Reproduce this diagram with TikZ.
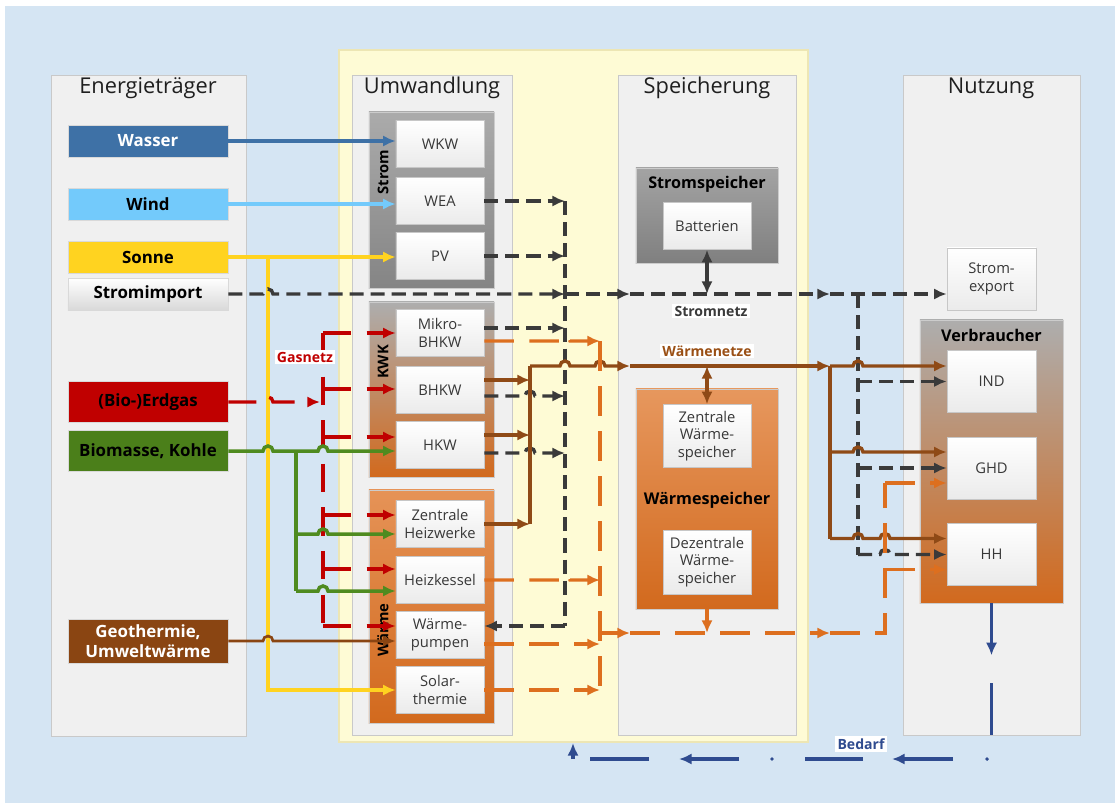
\documentclass[tikz,border=0pt]{standalone}
\usepackage{fontspec}
\setmainfont{Open Sans}
\usepackage{tikz}
\usetikzlibrary{calc,positioning,arrows.meta}

\definecolor{bgblue}{HTML}{D5E5F3}
\definecolor{pyellow}{HTML}{FEFBD5}
\definecolor{pyellowb}{HTML}{EDE6B4}
\definecolor{pgray}{HTML}{F0F0F0}
\definecolor{pborder}{HTML}{C9C9C9}
\definecolor{cwasser}{HTML}{3E71A6}
\definecolor{cwind}{HTML}{73CAFB}
\definecolor{csonne}{HTML}{FFD320}
\definecolor{cgas}{HTML}{C00000}
\definecolor{cbio}{HTML}{4B7F1A}
\definecolor{cgeo}{HTML}{8A4512}
\definecolor{cnetz}{HTML}{3A3A3A}
\definecolor{cbrown}{HTML}{8F4A16}
\definecolor{corange}{HTML}{DD6F1F}
\definecolor{cgreen}{HTML}{4F8B1F}
\definecolor{cnavy}{HTML}{2F4B8F}

% small bridge where a line jumps over another one
\newcommand\hopover[2]{-- ($(#1 |- #2)+(-5,0)$) arc[start angle=180,end angle=0,radius=0.125cm]}

\tikzset{
  panel/.style={draw=pborder, fill=pgray, line width=0.6pt},
  paneltitle/.style={font=\fontsize{15.5}{18}\selectfont, text=black!88},
  source/.style={minimum width=4cm, minimum height=0.8cm, inner sep=1pt, align=center,
    draw=black!15, font=\bfseries\fontsize{12}{14}\selectfont},
  unitgroup/.style={draw=black!20, line width=0.4pt, inner sep=0pt},
  unit/.style={draw=black!22, top color=white, bottom color=black!8,
    minimum width=2.2cm, minimum height=1.175cm, inner sep=1pt, align=center,
    text=black!78, font=\fontsize{10.5}{12.5}\selectfont},
  sink/.style={unit, minimum width=2.225cm, minimum height=1.55cm},
  grouplabel/.style={rotate=90, font=\bfseries\fontsize{10.5}{12}\selectfont},
  grouptitle/.style={font=\bfseries\fontsize{11.5}{13}\selectfont},
  netlabel/.style={fill=white, inner sep=1.5pt, font=\bfseries\fontsize{10}{12}\selectfont},
  arr/.style={-{Latex[length=9pt,width=8pt]}},
  biarr/.style={{Latex[length=9pt,width=8pt]}-{Latex[length=9pt,width=8pt]}},
  flow/.style={line width=2.5pt},
  stromline/.style={draw=cnetz, line width=2.4pt, dash pattern=on 10pt off 5pt},
  gasline/.style={draw=cgas, line width=2.4pt, dash pattern=on 20pt off 11pt},
  heatline/.style={draw=corange, line width=2.4pt, dash pattern=on 21pt off 11pt},
  netzline/.style={draw=cbrown, line width=2.4pt},
  bedarfline/.style={draw=cnavy, line width=2.3pt}
}

\begin{document}
\begin{tikzpicture}[x=0.025cm,y=-0.025cm]
\useasboundingbox (0,0) rectangle (1115,803);
\fill[white] (0,0) rectangle (1115,803);
\fill[bgblue] (5,6) rectangle (1115,803);

% columns
\path[fill=pyellow, draw=pyellowb, line width=1pt] (339,50) rectangle (808,742);
\path[panel] (51,75) rectangle (246,736);
\path[panel] (352,75) rectangle (512,735);
\path[panel] (618,75) rectangle (796,735);
\path[panel] (903,75) rectangle (1080,735);
\node[paneltitle] at (148,88) {Energieträger};
\node[paneltitle] at (432,88) {Umwandlung};
\node[paneltitle] at (707,88) {Speicherung};
\node[paneltitle] at (991,88) {Nutzung};

% Energietraeger
\node[source, fill=cwasser, text=white] (wasser) at (148,141) {Wasser};
\node[source, fill=cwind] (wind) at (148,204) {Wind};
\node[source, fill=csonne] (sonne) at (148,257) {Sonne};
\node[source, top color=white, bottom color=black!15] (import) at (148,294) {Stromimport};
\node[source, fill=cgas, minimum height=1.025cm, text=black] (erdgas) at (148,402) {(Bio-)Erdgas};
\node[source, fill=cbio, minimum height=1.025cm] (bio) at (148,451) {Biomasse, Kohle};
\node[source, fill=cgeo, minimum height=1.1cm, text=white] (geo) at (148,641) {Geothermie,\\Umweltwärme};

% Umwandlung
\node[unitgroup, top color=black!33, bottom color=black!48, minimum width=3.125cm, minimum height=4.4cm] (gstrom) at (431.5,200) {};
\node[unitgroup, top color=black!32, bottom color=corange!95!black, minimum width=3.125cm, minimum height=4.375cm] (gkwk) at (431.5,389.5) {};
\node[unitgroup, top color=corange!75!white, bottom color=corange!95!black, minimum width=3.125cm, minimum height=5.825cm] (gwaerme) at (431.5,606.5) {};
\node[grouplabel] at (383,172) {Strom};
\node[grouplabel] at (383,362) {KWK};
\node[grouplabel] at (383,630) {Wärme};

\node[unit] (wkw) at (440,144) {WKW};
\node[unit] (wea) at (440,201) {WEA};
\node[unit] (pv) at (440,256) {PV};
\node[unit] (mbhkw) at (440,333) {Mikro-\\BHKW};
\node[unit] (bhkw) at (440,390) {BHKW};
\node[unit] (hkw) at (440,445) {HKW};
\node[unit] (zhw) at (440,524) {Zentrale\\Heizwerke};
\node[unit] (kessel) at (440,580) {Heizkessel};
\node[unit] (wp) at (440,635) {Wärme-\\pumpen};
\node[unit] (solar) at (440,690) {Solar-\\thermie};

% Speicherung
\node[unitgroup, top color=black!36, bottom color=black!50, minimum width=3.55cm, minimum height=2.375cm] (ssp) at (707,215.5) {};
\node[grouptitle] at (707,184) {Stromspeicher};
\node[unit] (batt) at (707,226) {Batterien};
\node[unitgroup, top color=corange!72!white, bottom color=corange!95!black, minimum width=3.55cm, minimum height=5.5cm] (wsp) at (707,499) {};
\node[unit, minimum height=1.575cm] (zws) at (707,436) {Zentrale\\Wärme-\\speicher};
\node[grouptitle] at (707,500) {Wärmespeicher};
\node[unit, minimum height=1.6cm] (dws) at (707,562) {Dezentrale\\Wärme-\\speicher};

% Nutzung
\node[sink] (export) at (991.5,279) {Strom-\\export};
\node[unitgroup, top color=black!32, bottom color=corange!95!black, minimum width=3.575cm, minimum height=7.075cm] (verb) at (991.5,461.5) {};
\node[grouptitle] at (991.5,335) {Verbraucher};
\node[sink] (ind) at (991.5,381.5) {IND};
\node[sink] (ghd) at (991.5,468) {GHD};
\node[sink] (hh) at (991.5,554.5) {HH};

% bus lines and rows
\coordinate (ybus) at (268,0);
\coordinate (gbus) at (296,0);
\coordinate (rbus) at (323,0);
\coordinate (bbus) at (530,0);
\coordinate (sbus) at (565,0);
\coordinate (obus) at (600,0);
\coordinate (sin) at (630,0);
\coordinate (sout) at (830,0);
\coordinate (snet) at (858,0);
\coordinate (onet) at (885,0);
\coordinate (nWaerme) at (0,366);
\coordinate (nDez) at (0,633);
\coordinate (rMs) at ($(mbhkw.east)+(0,-5)$);
\coordinate (rMo) at ($(mbhkw.east)+(0,8)$);
\coordinate (rBb) at ($(bhkw.east)+(0,-10)$);
\coordinate (rBs) at ($(bhkw.east)+(0,6)$);
\coordinate (rHb) at ($(hkw.east)+(0,-10)$);
\coordinate (rHs) at ($(hkw.east)+(0,8)$);
\coordinate (rWs) at ($(wp.east)+(0,-9)$);
\coordinate (rWo) at ($(wp.east)+(0,9)$);
\coordinate (rGb) at ($(ghd.west)+(0,-16)$);
\coordinate (rGo) at ($(ghd.west)+(0,15)$);
\coordinate (rHHb) at ($(hh.west)+(0,-16)$);
\coordinate (rHHo) at ($(hh.west)+(0,15)$);
\coordinate (gZ) at ($(zhw.west)+(0,10)$);
\coordinate (gK) at ($(kessel.west)+(0,11)$);

% Sonne, Wasser, Wind
\draw[flow, draw=cwasser, arr] (wasser.east) -- (wkw.west |- wasser.east);
\draw[flow, draw=cwind, arr] (wind.east) -- (wea.west |- wind.east);
\draw[flow, draw=csonne, arr] (sonne.east) -- (pv.west |- sonne.east);
\draw[flow, draw=csonne, arr] (ybus |- sonne.east) -- (ybus |- solar.west) -- (solar.west);

% Gasnetz
\draw[gasline, arr] (erdgas.east) \hopover{ybus}{erdgas.east} -- ($(rbus |- erdgas.east)+(-3,0)$);
\draw[gasline] (rbus |- mbhkw.west) -- ($(rbus |- wp.west)+(0,-9)$);
\foreach \u/\dy in {mbhkw/0,bhkw/-1,hkw/-8,zhw/-9,kessel/-11,wp/-9}
  \draw[gasline, arr] ($(rbus |- \u.west)+(0,\dy)$) -- ($(\u.west)+(0,\dy)$);
\node[netlabel, text=cgas] at (305,357) {Gasnetz};

% Biomasse
\draw[flow, draw=cgreen, arr] (bio.east) \hopover{ybus}{bio.east} -- (gbus |- bio.east) \hopover{rbus}{bio.east} -- (hkw.west |- bio.east);
\draw[flow, draw=cgreen] (gbus |- bio.east) -- (gbus |- gK);
\draw[flow, draw=cgreen, arr] (gbus |- gZ) \hopover{rbus}{gZ} -- (gZ);
\draw[flow, draw=cgreen, arr] (gbus |- gK) \hopover{rbus}{gK} -- (gK);

% Geothermie
\draw[line width=1.9pt, draw=cgeo, arr] (geo.east) \hopover{ybus}{geo.east} -- (wp.west |- geo.east);

% Stromnetz
\draw[stromline, arr] (import.east) \hopover{ybus}{import.east} -- (sbus |- import.east);
\draw[stromline, arr] (sbus |- import.east) -- (sin |- import.east);
\draw[stromline, arr] (sin |- import.east) -- (sout |- import.east);
\draw[stromline, arr] (sout |- import.east) -- (export.west |- import.east);
\draw[stromline] (sbus |- wea.east) -- (sbus |- rWs);
\draw[stromline, arr] (wea.east) -- (sbus |- wea.east);
\draw[stromline, arr] (pv.east) -- (sbus |- pv.east);
\draw[stromline, arr] (rMs) -- (sbus |- rMs);
\draw[stromline, arr] (rBs) \hopover{bbus}{rBs} -- (sbus |- rBs);
\draw[stromline, arr] (rHs) \hopover{bbus}{rHs} -- (sbus |- rHs);
\draw[stromline, arr] (sbus |- rWs) -- (rWs);
\draw[line width=2.4pt, draw=cnetz, biarr] (batt.south) -- (batt.south |- import.east);
\draw[stromline] (snet |- import.east) -- (snet |- hh.west);
\draw[stromline, arr] (snet |- ind.west) -- (ind.west);
\draw[stromline, arr] (snet |- ghd.west) -- (ghd.west);
\draw[stromline, arr] (snet |- hh.west) \hopover{onet}{hh.west} -- (hh.west);
\node[netlabel, text=cnetz] at (711,311) {Stromnetz};

% Waermenetze
\draw[netzline] (bbus |- zhw.east) -- (bbus |- nWaerme);
\draw[netzline, arr] (rBb) -- (bbus |- rBb);
\draw[netzline, arr] (rHb) -- (bbus |- rHb);
\draw[netzline, arr] (zhw.east) -- (bbus |- zhw.east);
\draw[netzline, arr] (bbus |- nWaerme) \hopover{sbus}{nWaerme} \hopover{obus}{nWaerme} -- (sin |- nWaerme);
\draw[netzline, arr] (sin |- nWaerme) -- (sout |- nWaerme);
\draw[netzline, arr] (sout |- nWaerme) \hopover{snet}{nWaerme} -- (ind.west |- nWaerme);
\draw[netzline] (sout |- nWaerme) -- (sout |- rHHb);
\draw[netzline, arr] (sout |- rGb) \hopover{snet}{rGb} -- (rGb);
\draw[netzline, arr] (sout |- rHHb) \hopover{snet}{rHHb} \hopover{onet}{rHHb} -- (rHHb);
\draw[netzline, biarr] (zws.north) -- (zws.north |- nWaerme);
\node[netlabel, text=cbrown!90!orange] at (707,351) {Wärmenetze};

% dezentrale Waerme
\draw[heatline] (obus |- rMo) -- (obus |- solar.east);
\draw[heatline, arr] (rMo) \hopover{sbus}{rMo} -- (obus |- rMo);
\draw[heatline, arr] (kessel.east) \hopover{sbus}{kessel.east} -- (obus |- kessel.east);
\draw[heatline, arr] (rWo) -- (obus |- rWo);
\draw[heatline, arr] (solar.east) -- (obus |- solar.east);
\draw[heatline, arr] (obus |- nDez) -- (sin |- nDez);
\draw[heatline, arr] (sin |- nDez) -- (sout |- nDez);
\draw[heatline] (sout |- nDez) -- (onet |- nDez) -- (onet |- rGo);
\draw[heatline, arr] (onet |- rGo) -- (rGo);
\draw[heatline, arr] (onet |- rHHo) -- (rHHo);
\draw[line width=2.4pt, draw=corange, arr] (wsp.south) -- (wsp.south |- nDez);

% Bedarf
\draw[bedarfline, arr] (verb.south) -- ++(0,52);
\draw[bedarfline] ($(verb.south)+(0,80)$) -- ++(0,52);
\fill[cnavy] (987,759) circle (1.4pt);
\draw[bedarfline, arr] (953,759) -- (892,759);
\draw[bedarfline] (863,759) -- (805,759);
\fill[cnavy] (772,759) circle (1.4pt);
\draw[bedarfline, arr] (739,759) -- (679,759);
\draw[bedarfline] (649,759) -- (590,759);
\draw[bedarfline, arr] (573,759) -- (573,743);
\node[netlabel, text=cnavy] at (861,744) {Bedarf};
\end{tikzpicture}
\end{document}
